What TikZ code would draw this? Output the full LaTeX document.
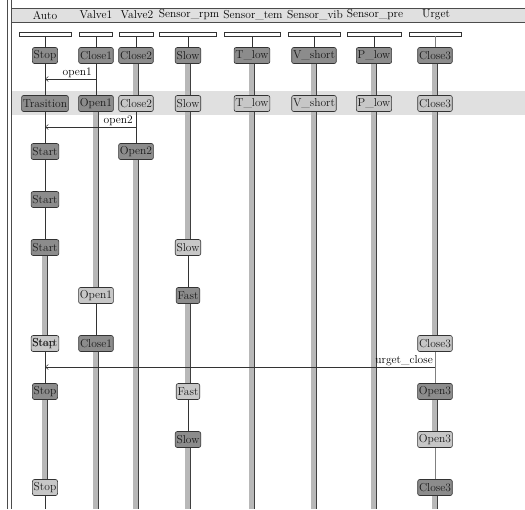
\documentclass[tikz,border=0pt]{standalone}
\usetikzlibrary{arrows.meta}

\tikzset{
  darkst/.style={draw=black!80, fill=black!45, rounded corners=2pt, inner sep=1.3pt,
    minimum height=16pt, line width=0.6pt, text=black!90, font=\fontsize{11.5}{13}\selectfont},
  lightst/.style={darkst, fill=black!22},
  lanebar/.style={draw=black!80, fill=white, minimum height=4pt, inner sep=0pt, line width=0.7pt},
  lanetitle/.style={inner sep=1pt, font=\fontsize{11.5}{13}\selectfont},
  life/.style={draw=black!80, line width=0.6pt},
  actbar/.style={draw=black!28, line width=5.5pt},
  actedge/.style={draw=black!75, line width=0.8pt},
  msg/.style={draw=black!80, line width=0.5pt, -{Straight Barb[length=3pt,width=5pt]}},
  msglabel/.style={inner sep=1pt, font=\fontsize{11.5}{13}\selectfont},
}
\newcommand{\actline}[2]{%
  \draw[actbar] (#1.south) -- (#2.north);
  \draw[actedge] ([xshift=2.3pt]#1.south) -- ([xshift=2.3pt]#2.north);}

\begin{document}
\begin{tikzpicture}[x=1pt,y=-1pt]
    \useasboundingbox (0,0) rectangle (525,509);
    % frame, title row and highlighted row
    \fill[black!12] (11,8) rectangle (525,22);
    \fill[black!12] (11,91) rectangle (525,115);
    \draw[black!70, line width=1pt] (11,8) -- (525,8);
    \draw[black!70, line width=0.8pt] (11,22) -- (525,22);
    \draw[black!70, line width=0.6pt] (7,0) -- (7,509);
    \draw[black!70, line width=0.6pt] (11,0) -- (11,509);

    \node[lanetitle] (tAuto) at (45,15) {Auto};
    \node[lanetitle] (tValveA) at (96,15) {Valve1};
    \node[lanetitle] (tValveB) at (137,15) {Valve2};
    \node[lanetitle] (tRpm) at (189,15) {Sensor\_rpm};
    \node[lanetitle] (tTem) at (253,15) {Sensor\_tem};
    \node[lanetitle] (tVib) at (315,15) {Sensor\_vib};
    \node[lanetitle] (tPre) at (375,15) {Sensor\_pre};
    \node[lanetitle] (tUrget) at (436,15) {Urget};

    \node[lanebar, minimum width=52pt] (hAuto) at (45,34) {};
    \node[lanebar, minimum width=33pt] (hValveA) at (96,34) {};
    \node[lanebar, minimum width=34pt] (hValveB) at (136,34) {};
    \node[lanebar, minimum width=57pt] (hRpm) at (188,34) {};
    \node[lanebar, minimum width=56pt] (hTem) at (252,34) {};
    \node[lanebar, minimum width=52pt] (hVib) at (314,34) {};
    \node[lanebar, minimum width=54pt] (hPre) at (374,34) {};
    \node[lanebar, minimum width=52pt] (hUrget) at (435,34) {};

    % Auto
    \node[darkst] (Auto1) at (45,55.5) {Stop};
    \node[darkst] (Auto2) at (45,103.5) {Trasition};
    \node[darkst] (Auto3) at (45,151.5) {Start};
    \node[darkst] (Auto4) at (45,199.5) {Start};
    \node[darkst] (Auto5) at (45,247.5) {Start};
    \node[lightst] (Auto7) at (45,343.5) {\rlap{Stop}Start};
    \node[darkst] (Auto8) at (45,391.5) {Stop};
    \node[lightst] (Auto10) at (45,487.5) {Stop};
    \coordinate (bAuto) at (45,509);
    % Valve1
    \node[darkst] (ValveA1) at (96,55.5) {Close1};
    \node[darkst] (ValveA2) at (96,103.5) {Open1};
    \node[lightst] (ValveA6) at (96,295.5) {Open1};
    \node[darkst] (ValveA7) at (96,343.5) {Close1};
    \coordinate (bValveA) at (96,509);
    % Valve2
    \node[darkst] (ValveB1) at (136,55.5) {Close2};
    \node[lightst] (ValveB2) at (136,103.5) {Close2};
    \node[darkst] (ValveB3) at (136,151.5) {Open2};
    \coordinate (bValveB) at (136,509);
    % Sensor_rpm
    \node[darkst] (Rpm1) at (188,55.5) {Slow};
    \node[lightst] (Rpm2) at (188,103.5) {Slow};
    \node[lightst] (Rpm5) at (188,247.5) {Slow};
    \node[darkst] (Rpm6) at (188,295.5) {Fast};
    \node[lightst] (Rpm8) at (188,391.5) {Fast};
    \node[darkst] (Rpm9) at (188,439.5) {Slow};
    \coordinate (bRpm) at (188,509);
    % Sensor_tem, Sensor_vib, Sensor_pre
    \node[darkst] (Tem1) at (252,55.5) {T\_low};
    \node[lightst] (Tem2) at (252,103.5) {T\_low};
    \coordinate (bTem) at (252,509);
    \node[darkst] (Vib1) at (314,55.5) {V\_short};
    \node[lightst] (Vib2) at (314,103.5) {V\_short};
    \coordinate (bVib) at (314,509);
    \node[darkst] (Pre1) at (374,55.5) {P\_low};
    \node[lightst] (Pre2) at (374,103.5) {P\_low};
    \coordinate (bPre) at (374,509);
    % Urget
    \node[darkst] (Urget1) at (435,55.5) {Close3};
    \node[lightst] (Urget2) at (435,103.5) {Close3};
    \node[lightst] (Urget7) at (435,343.5) {Close3};
    \node[darkst] (Urget8) at (435,391.5) {Open3};
    \node[lightst] (Urget9) at (435,439.5) {Open3};
    \node[darkst] (Urget10) at (435,487.5) {Close3};
    \coordinate (bUrget) at (435,509);

    % lifelines
    \draw[life] (hAuto) -- (Auto1);
    \draw[life] (Auto1) -- (Auto2);
    \draw[life] (Auto2) -- (Auto3);
    \draw[life] (Auto3) -- (Auto4);
    \draw[life] (Auto4) -- (Auto5);
    \actline{Auto5}{Auto7}
    \draw[life] (Auto7) -- (Auto8);
    \actline{Auto8}{Auto10}
    \draw[life] (Auto10) -- (bAuto);

    \draw[life] (hValveA) -- (ValveA1);
    \draw[life] (ValveA1) -- (ValveA2);
    \actline{ValveA2}{ValveA6}
    \draw[life] (ValveA6) -- (ValveA7);
    \actline{ValveA7}{bValveA}

    \draw[life] (hValveB) -- (ValveB1);
    \actline{ValveB1}{ValveB2}
    \draw[life] (ValveB2) -- (ValveB3);
    \actline{ValveB3}{bValveB}

    \draw[life] (hRpm) -- (Rpm1);
    \actline{Rpm1}{Rpm2}
    \actline{Rpm2}{Rpm5}
    \draw[life] (Rpm5) -- (Rpm6);
    \actline{Rpm6}{Rpm8}
    \draw[life] (Rpm8) -- (Rpm9);
    \actline{Rpm9}{bRpm}

    \draw[life] (hTem) -- (Tem1);
    \actline{Tem1}{Tem2}
    \actline{Tem2}{bTem}
    \draw[life] (hVib) -- (Vib1);
    \actline{Vib1}{Vib2}
    \actline{Vib2}{bVib}
    \draw[life] (hPre) -- (Pre1);
    \actline{Pre1}{Pre2}
    \actline{Pre2}{bPre}

    \draw[life, black!50] (hUrget) -- (Urget1);
    \actline{Urget1}{Urget2}
    \actline{Urget2}{Urget7}
    \draw[life, black!50] (Urget7) -- (Urget8);
    \actline{Urget8}{Urget9}
    \draw[life, black!50] (Urget9) -- (Urget10);
    \actline{Urget10}{bUrget}

    % messages
    \coordinate (open1s) at (96,79);
    \coordinate (open1e) at (45,79);
    \draw[msg] (open1s) -- (open1e) node[msglabel, pos=0, anchor=south east, xshift=-3pt] (lOpen1) {open1};
    \coordinate (open2s) at (136,127);
    \coordinate (open2e) at (45,127);
    \draw[msg] (open2s) -- (open2e) node[msglabel, pos=0, anchor=south east, xshift=-2pt] (lOpen2) {open2};
    \coordinate (urgets) at (435,367);
    \coordinate (urgete) at (45,367);
    \draw[msg] (urgets) -- (urgete) node[msglabel, pos=0, anchor=south east, xshift=-1pt] (lUrget) {urget\_close};

\end{tikzpicture}
\end{document}
